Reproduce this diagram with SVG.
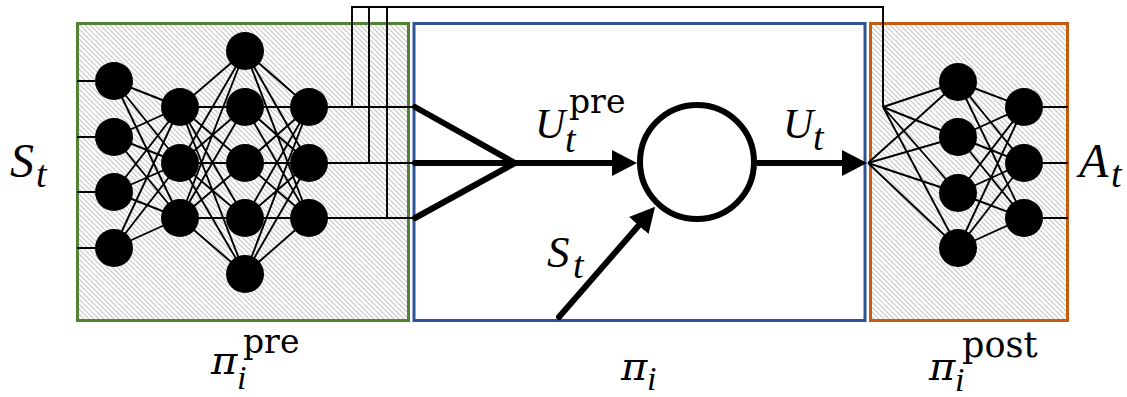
<svg xmlns="http://www.w3.org/2000/svg" width="1127" height="397" viewBox="0 0 1127 397">
<style>
.box{stroke-width:3}
.hatch{fill:url(#hatch)}
.n{fill:#000}
.thin{fill:none;stroke:#000;stroke-width:1.9}
.thick{fill:none;stroke:#000;stroke-width:6}
.it{font-family:"Liberation Serif",serif;font-style:italic;fill:#000}
.gr{font-family:"DejaVu Serif",serif;font-style:italic;fill:#000}
.up{font-family:"DejaVu Serif",serif;fill:#000}
</style>
<defs>
<pattern id="hatch" patternUnits="userSpaceOnUse" width="5" height="5">
<rect width="5" height="5" fill="#fff"/>
<path d="M0,0 L5,5 M-1,4 L1,6 M4,-1 L6,1" stroke="#c8c8c8" stroke-width="1.2"/>
</pattern>
<marker id="ah" markerUnits="userSpaceOnUse" markerWidth="25" markerHeight="26" refX="2" refY="13" orient="auto">
<path d="M0,0 L25,13 L0,26 z" fill="#000"/>
</marker>
</defs>
<rect width="1127" height="397" fill="#fff"/>

<g id="pi-pre">
<rect class="box hatch" x="77.5" y="23.5" width="331" height="297" stroke="#548235"/>
</g>
<g id="pi">
<rect class="box" x="414" y="23.5" width="451" height="297" fill="#fff" stroke="#2f5597"/>
</g>
<g id="pi-post">
<rect class="box hatch" x="870.5" y="23.5" width="197" height="297" stroke="#c55a11"/>
</g>

<g id="connectors">
<path class="thin" d="M77,81H114 M77,137H114 M77,192H114 M77,248H114
M114,81L180,107 M114,81L180,163 M114,81L180,218
M114,137L180,107 M114,137L180,163 M114,137L180,218
M114,192L180,107 M114,192L180,163 M114,192L180,218
M114,248L180,107 M114,248L180,163 M114,248L180,218
M180,107L245,51 M180,107L245,107 M180,107L245,163 M180,107L245,218 M180,107L245,274
M180,163L245,51 M180,163L245,107 M180,163L245,163 M180,163L245,218 M180,163L245,274
M180,218L245,51 M180,218L245,107 M180,218L245,163 M180,218L245,218 M180,218L245,274
M245,51L309,107 M245,51L309,163 M245,51L309,218
M245,107L309,107 M245,107L309,163 M245,107L309,218
M245,163L309,107 M245,163L309,163 M245,163L309,218
M245,218L309,107 M245,218L309,163 M245,218L309,218
M245,274L309,107 M245,274L309,163 M245,274L309,218
M309,107H415 M309,163H415 M309,218H415"/>
<path class="thin" d="M352,107V7H883V107 M369,7V163 M387,7V218"/>
<path class="thin" d="M883,107L958,82 M883,107L958,137 M883,107L958,193 M883,107L958,248
M868,163L958,82 M868,163L958,137 M868,163L958,193 M868,163L958,248
M958,82L1024,107 M958,82L1024,163 M958,82L1024,218
M958,137L1024,107 M958,137L1024,163 M958,137L1024,218
M958,193L1024,107 M958,193L1024,163 M958,193L1024,218
M958,248L1024,107 M958,248L1024,163 M958,248L1024,218
M1024,107H1068 M1024,163H1068 M1024,218H1068"/>
<path class="thick" stroke-linecap="round" stroke-linejoin="round" d="M415,107L515,163L415,218 M415,163H515"/>
<path class="thick" d="M515,163H614" marker-end="url(#ah)"/>
<path class="thick" d="M757,163H844" marker-end="url(#ah)"/>
<path class="thick" stroke-linecap="round" d="M559,317L640,224" marker-end="url(#ah)"/>
</g>

<g id="left-neurons">
<circle class="n" cx="114" cy="81" r="19"/>
<circle class="n" cx="114" cy="137" r="19"/>
<circle class="n" cx="114" cy="192" r="19"/>
<circle class="n" cx="114" cy="248" r="19"/>
<circle class="n" cx="180" cy="107" r="19"/>
<circle class="n" cx="180" cy="163" r="19"/>
<circle class="n" cx="180" cy="218" r="19"/>
<circle class="n" cx="245" cy="51" r="19"/>
<circle class="n" cx="245" cy="107" r="19"/>
<circle class="n" cx="245" cy="163" r="19"/>
<circle class="n" cx="245" cy="218" r="19"/>
<circle class="n" cx="245" cy="274" r="19"/>
<circle class="n" cx="309" cy="107" r="19"/>
<circle class="n" cx="309" cy="163" r="19"/>
<circle class="n" cx="309" cy="218" r="19"/>
</g>
<g id="right-neurons">
<circle class="n" cx="958" cy="82" r="19"/>
<circle class="n" cx="958" cy="137" r="19"/>
<circle class="n" cx="958" cy="193" r="19"/>
<circle class="n" cx="958" cy="248" r="19"/>
<circle class="n" cx="1024" cy="107" r="19"/>
<circle class="n" cx="1024" cy="163" r="19"/>
<circle class="n" cx="1024" cy="218" r="19"/>
</g>
<g id="combiner">
<circle cx="697" cy="162" r="57" fill="#fff" stroke="#000" stroke-width="6"/>
</g>

<g id="labels">
<text class="it" x="10" y="177" font-size="48">S</text>
<text class="it" x="36" y="187" font-size="38">t</text>
<text class="it" x="1079" y="177" font-size="48">A</text>
<text class="it" x="1111" y="187" font-size="38">t</text>
<text class="it" x="535" y="138" font-size="42">U</text>
<text class="it" x="565" y="152" font-size="38">t</text>
<text class="up" x="569" y="113" font-size="33">pre</text>
<text class="it" x="783" y="138" font-size="42">U</text>
<text class="it" x="813" y="150" font-size="38">t</text>
<text class="it" x="547" y="267" font-size="45">S</text>
<text class="it" x="573" y="278" font-size="38">t</text>
<text class="gr" x="211" y="374" font-size="40">π</text>
<text class="it" x="237" y="389" font-size="34">i</text>
<text class="up" x="243" y="353" font-size="33">pre</text>
<text class="gr" x="621" y="380" font-size="40">π</text>
<text class="it" x="647" y="390" font-size="34">i</text>
<text class="gr" x="929" y="380" font-size="40">π</text>
<text class="it" x="955" y="391" font-size="34">i</text>
<text class="up" x="962" y="357" font-size="35">post</text>
</g>
</svg>
